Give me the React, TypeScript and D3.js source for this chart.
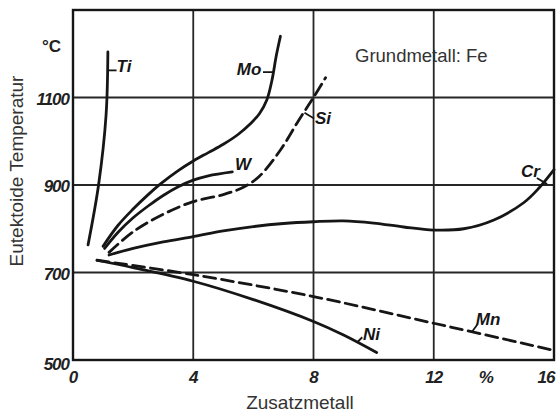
import * as d3 from 'd3';

// Alloy content in %, eutectoid temperature in °C
const tiPts: [number, number][] = [[0.5, 763], [0.85, 900], [1.1, 1060], [1.16, 1204]];
const moPts: [number, number][] = [[1.0, 760], [1.5, 808], [2.0, 845], [2.5, 878], [2.9, 902], [3.5, 933], [4.0, 955], [4.5, 974], [5.0, 993], [5.5, 1016], [5.9, 1040], [6.2, 1063], [6.45, 1095], [6.62, 1140], [6.76, 1195], [6.9, 1240]];
const wPts: [number, number][] = [[1.05, 755], [1.5, 792], [2.0, 825], [2.5, 852], [3.0, 876], [3.5, 896], [4.0, 911], [4.5, 921], [5.3, 930]];
const siPts: [number, number][] = [[1.2, 746], [2.0, 793], [3.0, 833], [4.0, 862], [5.0, 878], [5.7, 896], [6.2, 920], [6.9, 980], [7.5, 1047], [8.0, 1100], [8.4, 1145]];
const crPts: [number, number][] = [[1.2, 740], [2, 755], [3, 770], [4, 782], [5, 795], [6, 805], [7, 812], [8, 816], [9, 818], [10, 813], [11, 804], [12, 797], [13, 800], [14, 820], [15, 860], [15.5, 893], [16, 935]];
const niPts: [number, number][] = [[0.8, 728], [2, 711], [4, 680], [6, 638], [8, 588], [9, 557], [10.1, 517]];
const mnPts: [number, number][] = [[0.8, 728], [4, 695], [8, 645], [12, 584], [16, 522]];

const series = [
  { name: 'Ti', pts: tiPts, dashed: false },
  { name: 'Mo', pts: moPts, dashed: false },
  { name: 'W', pts: wPts, dashed: false },
  { name: 'Si', pts: siPts, dashed: true },
  { name: 'Cr', pts: crPts, dashed: false },
  { name: 'Ni', pts: niPts, dashed: false },
  { name: 'Mn', pts: mnPts, dashed: true },
];

// label text position + leader line (data units)
const labels = [
  { text: 'Ti', at: [1.45, 1158], leader: [[1.15, 1162], [1.45, 1162]] },
  { text: 'Mo', at: [5.45, 1151], leader: [[6.32, 1158], [6.66, 1158]] },
  { text: 'W', at: [5.39, 934], leader: [] },
  { text: 'Si', at: [8.05, 1039], leader: [[7.7, 1065], [8.02, 1052]] },
  { text: 'Cr', at: [14.9, 918], leader: [[15.43, 916], [15.77, 902]] },
  { text: 'Ni', at: [9.65, 546], leader: [[9.45, 540], [9.62, 552]] },
  { text: 'Mn', at: [13.4, 580], leader: [[13.28, 565], [13.45, 581]] },
];

const xTicks = [0, 4, 8, 12, 16];
const yTicks = [500, 700, 900, 1100];
const xGrid = [4, 8, 12];
const yGrid = [700, 900, 1100];

const W = 556;
const H = 414;
const INK = '#161616';
const TICK_FONT = '"Liberation Sans", Arial, sans-serif';

export default function App() {
  const x = d3.scaleLinear().domain([0, 16]).range([73, 554]);
  const y = d3.scaleLinear().domain([500, 1300]).range([360, 10]);

  const line = d3.line<[number, number]>()
    .x((d) => x(d[0]))
    .y((d) => y(d[1]))
    .curve(d3.curveCatmullRom.alpha(0.5));

  return (
    <div style={{ position: 'fixed', left: 0, top: 0, background: '#fff' }}>
      <svg width={W} height={H} style={{ display: 'block' }}>
        <rect width={W} height={H} fill="#fff" />

        {/* grid */}
        {xGrid.map((v) => (
          <line key={'gx' + v} x1={x(v)} x2={x(v)} y1={y(1300)} y2={y(500)} stroke="#262626" strokeWidth={1.8} />
        ))}
        {yGrid.map((v) => (
          <line key={'gy' + v} x1={x(0)} x2={x(16)} y1={y(v)} y2={y(v)} stroke="#262626" strokeWidth={1.8} />
        ))}
        <rect x={x(0)} y={y(1300)} width={x(16) - x(0)} height={y(500) - y(1300)} fill="none" stroke={INK} strokeWidth={2.4} />

        {/* curves */}
        {series.map((s) => (
          <path
            key={s.name}
            d={line(s.pts) ?? ''}
            fill="none"
            stroke={INK}
            strokeWidth={2.8}
            strokeLinecap="round"
            strokeDasharray={s.dashed ? '12,6' : undefined}
          />
        ))}

        {/* curve labels */}
        {labels.map((l) => (
          <g key={'l' + l.text}>
            {l.leader.length > 0 && (
              <line
                x1={x(l.leader[0][0])} y1={y(l.leader[0][1])}
                x2={x(l.leader[1][0])} y2={y(l.leader[1][1])}
                stroke={INK} strokeWidth={1.8}
              />
            )}
            <text x={x(l.at[0])} y={y(l.at[1])} fontFamily={TICK_FONT} fontWeight="bold" fontStyle="italic" fontSize={17} fill={INK}>
              {l.text}
            </text>
          </g>
        ))}

        {/* y tick labels */}
        {yTicks.map((v) => (
          <text key={'yt' + v} x={69} y={y(v) + (v === 500 ? 10 : 7)} textAnchor="end" fontFamily={TICK_FONT} fontWeight="bold" fontStyle="italic" fontSize={17} letterSpacing={-1} fill="#222">
            {v}
          </text>
        ))}
        <text x={42} y={52} fontFamily={TICK_FONT} fontWeight="bold" fontSize={17} fill="#222">°C</text>

        {/* x tick labels */}
        {xTicks.map((v) => (
          <text key={'xt' + v} x={v === 16 ? x(v) - 8 : x(v)} y={383} textAnchor="middle" fontFamily={TICK_FONT} fontWeight="bold" fontStyle="italic" fontSize={17} letterSpacing={-1} fill="#222">
            {v}
          </text>
        ))}
        <text x={x(13.75)} y={383} textAnchor="middle" fontFamily={TICK_FONT} fontWeight="bold" fontStyle="italic" fontSize={17} fill="#222">%</text>

        {/* axis titles */}
        <text x={300} y={409} textAnchor="middle" fontFamily={TICK_FONT} fontSize={19} fill="#333">Zusatzmetall</text>
        <text transform="translate(23,171) rotate(-90)" textAnchor="middle" fontFamily={TICK_FONT} fontSize={19} fill="#333">Eutektoide Temperatur</text>
        <text x={355} y={62} fontFamily={TICK_FONT} fontSize={18.5} fill="#333">Grundmetall: Fe</text>
      </svg>
    </div>
  );
}
